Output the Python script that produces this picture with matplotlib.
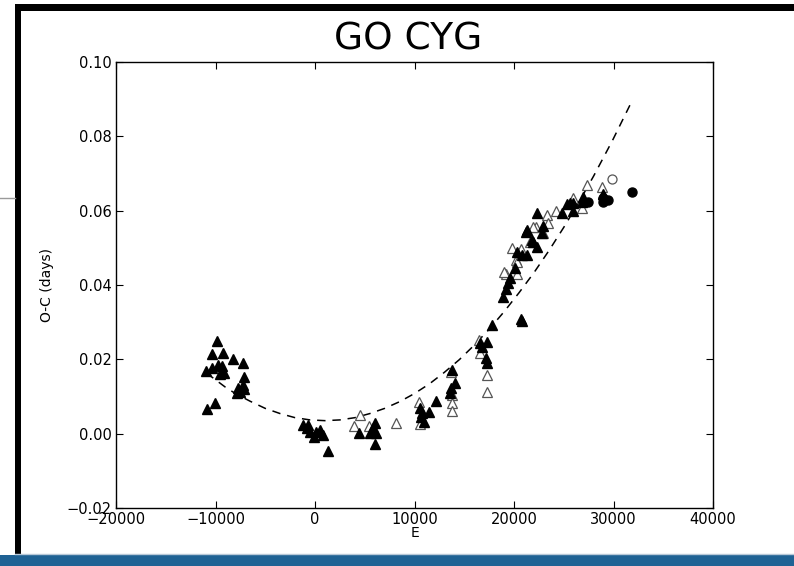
import matplotlib
matplotlib.use("Agg")
import matplotlib.pyplot as plt
from matplotlib.lines import Line2D
from matplotlib.patches import Rectangle

# ---- data ----
filled_tri_E = [-9850, -10350, -9250, -11000, -10400, -9700, -9300, -9100, -8250, -7240,
                -9500, -7140, -7240, -7740, -7540, -7140, -7840, -10900, -10100,
                -1200, -700, -800, -500, -100, 100, 500, 800, 1300,
                4400, 5500, 5800, 6000, 6100, 6000,
                10550, 10650, 10750, 11000, 11450, 12150, 13550, 13650, 14100, 13750,
                16600, 16800, 17300, 17200, 17300, 17800, 20700, 20800,
                18900, 19200, 19400, 19600, 20100, 20300, 20800, 21300, 21300, 21800,
                22300, 22300, 22900, 22800, 21200, 21900, 24800, 25300, 25600, 25900,
                26900, 26800, 28900, 25900]
filled_tri_OC = [0.0250, 0.0214, 0.0216, 0.0168, 0.0178, 0.0184, 0.0182, 0.0164, 0.0200, 0.0190,
                 0.0160, 0.0152, 0.0130, 0.0124, 0.0112, 0.0120, 0.0110, 0.0067, 0.0083,
                 0.0023, 0.0023, 0.0014, 0.0004, -0.0010, 0.0004, 0.0010, -0.0004, -0.0047,
                 0.0002, 0.0002, 0.0015, 0.0028, 0.0002, -0.0028,
                 0.0069, 0.0045, 0.0055, 0.0031, 0.0058, 0.0088, 0.0110, 0.0122, 0.0136, 0.0170,
                 0.0243, 0.0232, 0.0246, 0.0203, 0.0190, 0.0292, 0.0308, 0.0303,
                 0.0367, 0.0389, 0.0405, 0.0418, 0.0445, 0.0488, 0.0480, 0.0480, 0.0547, 0.0520,
                 0.0502, 0.0593, 0.0560, 0.0540, 0.0542, 0.0515, 0.0595, 0.0617, 0.0620, 0.0600,
                 0.0636, 0.0623, 0.0645, 0.0620]

open_tri_E = [4500, 3900, 5400, 8100,
              10450, 10550, 13750, 13750, 13750, 13650,
              16500, 16600, 17300, 17300,
              19200, 20300, 20200, 19800, 20700, 21600, 22200, 22900, 23300, 23400,
              24200, 25900, 26800, 27300, 28800, 19000, 21900, 20300]
open_tri_OC = [0.0050, 0.0020, 0.0020, 0.0029,
               0.0085, 0.0026, 0.0104, 0.0082, 0.0061, 0.0166,
               0.0251, 0.0216, 0.0157, 0.0113,
               0.0430, 0.0430, 0.0466, 0.0499, 0.0497, 0.0515, 0.0555, 0.0540, 0.0588, 0.0566,
               0.0600, 0.0635, 0.0607, 0.0670, 0.0665, 0.0435, 0.0555, 0.0462]

filled_circ_E = [27400, 28900, 28900, 29400, 31900]
filled_circ_OC = [0.0623, 0.0634, 0.0623, 0.0628, 0.0650]

open_circ_E = [29800]
open_circ_OC = [0.0685]

fit_E = [-10900, -9000, -8000, -6500, -5000, -3500, -2000, -500, 1000, 2500, 4000, 5500,
         7000, 8500, 10000, 11500, 13000, 14500, 16000, 17500, 19000, 20500, 22000,
         23500, 25000, 26500, 28000, 29900, 31800]
fit_OC = [0.0163, 0.0125, 0.0108, 0.0087, 0.0068, 0.0054, 0.0043, 0.0037, 0.0035, 0.0037,
          0.0043, 0.0054, 0.0068, 0.0086, 0.0108, 0.0134, 0.0165, 0.0199, 0.0238, 0.0281,
          0.0328, 0.0379, 0.0433, 0.0492, 0.0555, 0.0622, 0.0693, 0.0789, 0.0892]

x_ticks = [-20000, -10000, 0, 10000, 20000, 30000, 40000]
y_ticks = [-0.02, 0.00, 0.02, 0.04, 0.06, 0.08, 0.10]

# ---- figure ----
W, H = 794, 566
fig = plt.figure(figsize=(W / 100, H / 100), dpi=100)
fig.patch.set_facecolor("white")

ax = fig.add_axes([116 / W, 1 - 508 / H, (713 - 116) / W, (508 - 62) / H])

ax.plot(fit_E, fit_OC, color="black", linestyle=(0, (5.5, 4.5)), linewidth=1.1, zorder=2)
ax.plot(open_tri_E, open_tri_OC, linestyle="none", marker="^", markersize=6.5,
        markerfacecolor="white", markeredgecolor="#555555", markeredgewidth=0.9, zorder=3)
ax.plot(filled_tri_E, filled_tri_OC, linestyle="none", marker="^", markersize=6.5,
        markerfacecolor="black", markeredgecolor="black", zorder=4)
ax.plot(open_circ_E, open_circ_OC, linestyle="none", marker="o", markersize=6.5,
        markerfacecolor="white", markeredgecolor="#555555", markeredgewidth=0.9, zorder=3)
ax.plot(filled_circ_E, filled_circ_OC, linestyle="none", marker="o", markersize=6.5,
        markerfacecolor="black", markeredgecolor="black", zorder=4)

ax.set_xlim(-20000, 40000)
ax.set_ylim(-0.02, 0.10)
ax.set_xticks(x_ticks)
ax.set_yticks(y_ticks)
ax.set_xticklabels([f"{v}".replace("-", "\u2212") for v in x_ticks])
ax.set_yticklabels([f"{v:.2f}".replace("-", "\u2212") for v in y_ticks])
ax.tick_params(direction="in", top=True, right=True, length=5, width=0.8,
               labelsize=10.5, pad=3, colors="black")
for s in ax.spines.values():
    s.set_linewidth(1.0)
ax.set_xlabel("E", fontsize=10, labelpad=-1)
ax.set_ylabel("O-C (days)", fontsize=10, labelpad=9)

# slide decorations
fig.text(408 / W, 1 - 39 / H, "GO CYG", ha="center", va="center", fontsize=27,
         family=["Liberation Sans Narrow", "DejaVu Sans"], color="black")
fig.add_artist(Rectangle((15 / W, 1 - 555 / H), 6 / W, (555 - 4) / H,
                         transform=fig.transFigure, facecolor="black", edgecolor="none"))
fig.add_artist(Rectangle((15 / W, 1 - 11 / H), (W - 15) / W, 7 / H,
                         transform=fig.transFigure, facecolor="black", edgecolor="none"))
fig.add_artist(Line2D([0, 15 / W], [1 - 198 / H, 1 - 198 / H], transform=fig.transFigure,
                      color="#9a9a9a", linewidth=1.0))
fig.add_artist(Rectangle((0, 0), 1, (H - 555) / H, transform=fig.transFigure,
                         facecolor="#1f6294", edgecolor="none"))
fig.add_artist(Line2D([15 / W, 1], [1 - 554 / H, 1 - 554 / H], transform=fig.transFigure,
                      color="#b9c9d8", linewidth=1.0))

fig.savefig("out.png", dpi=100)
